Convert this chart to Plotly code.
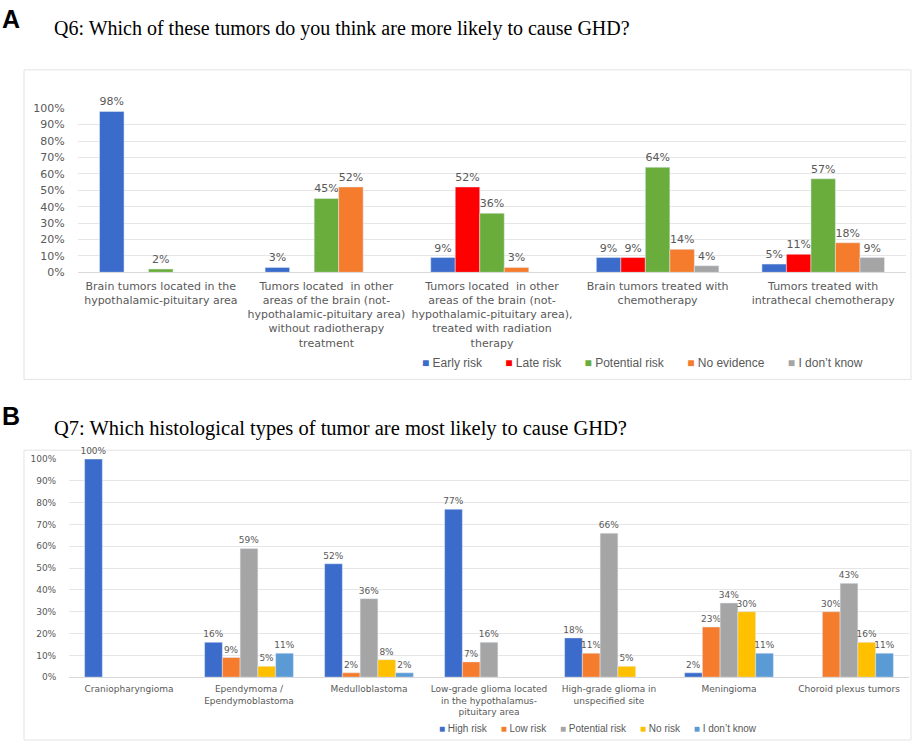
import plotly.graph_objects as go

# Q6 data (panel A)
q6_cats = ["Brain tumors located in the<br>hypothalamic-pituitary area",
           "Tumors located  in other<br>areas of the brain (not-<br>hypothalamic-pituitary area)<br>without radiotherapy<br>treatment",
           "Tumors located  in other<br>areas of the brain (not-<br>hypothalamic-pituitary area),<br>treated with radiation<br>therapy",
           "Brain tumors treated with<br>chemotherapy",
           "Tumors treated with<br>intrathecal chemotherapy"]
q6_early = [0.98, 0.03, 0.09, 0.09, 0.05]
q6_late = [None, None, 0.52, 0.09, 0.11]
q6_potential = [0.02, 0.45, 0.36, 0.64, 0.57]
q6_noevid = [None, 0.52, 0.03, 0.14, 0.18]
q6_dontknow = [None, None, None, 0.04, 0.09]

# Q7 data (panel B)
q7_cats = ["Craniopharyngioma", "Ependymoma /<br>Ependymoblastoma", "Medulloblastoma",
           "Low-grade glioma located<br>in the hypothalamus-<br>pituitary area",
           "High-grade glioma in<br>unspecified site", "Meningioma", "Choroid plexus tumors"]
q7_high = [1.00, 0.16, 0.52, 0.77, 0.18, 0.02, None]
q7_low = [None, 0.09, 0.02, 0.07, 0.11, 0.23, 0.30]
q7_potential = [None, 0.59, 0.36, 0.16, 0.66, 0.34, 0.43]
q7_norisk = [None, 0.05, 0.08, None, 0.05, 0.30, 0.16]
q7_dontknow = [None, 0.11, 0.02, None, None, 0.11, 0.11]

W, H = 912, 750
def px(x): return x / W
def py(y): return 1 - y / H

GREY = "#595959"
fig = go.Figure()

q6_series = [("Early risk", q6_early, "#3c6ccb"), ("Late risk", q6_late, "#ff0000"),
             ("Potential risk", q6_potential, "#6aad3c"), ("No evidence", q6_noevid, "#f47c2c"),
             ("I don\u2019t know", q6_dontknow, "#a5a5a5")]
for name, vals, col in q6_series:
    fig.add_trace(go.Bar(x=q6_cats, y=vals, name=name, marker_color=col,
                         xaxis="x", yaxis="y", showlegend=False,
                         texttemplate="%{y:.0%}", textposition="outside",
                         textfont=dict(family="DejaVu Sans", size=11, color=GREY),
                         cliponaxis=False, constraintext="none"))

q7_series = [("High risk", q7_high, "#3c6ccb"), ("Low risk", q7_low, "#f47c2c"),
             ("Potential risk", q7_potential, "#a5a5a5"), ("No risk", q7_norisk, "#ffc000"),
             ("I don\u2019t know", q7_dontknow, "#5b9bd5")]
for name, vals, col in q7_series:
    fig.add_trace(go.Bar(x=q7_cats, y=vals, name=name, marker_color=col,
                         xaxis="x2", yaxis="y2", showlegend=False,
                         texttemplate="%{y:.0%}", textposition="outside",
                         textfont=dict(family="DejaVu Sans", size=9, color=GREY),
                         cliponaxis=False, constraintext="none"))

tickfont_a = dict(family="DejaVu Sans", size=11, color=GREY)
tickfont_b = dict(family="DejaVu Sans", size=9, color=GREY)

fig.update_layout(
    width=W, height=H, margin=dict(l=0, r=0, t=0, b=0),
    paper_bgcolor="white", plot_bgcolor="white",
    font=dict(family="DejaVu Sans", color=GREY),
    barmode="group", bargap=0.26, bargroupgap=0,
    xaxis=dict(domain=[px(78), px(906)], anchor="y", tickfont=tickfont_a,
               showline=True, linecolor="#d9d9d9", ticks="outside", ticklen=3,
               tickcolor="rgba(0,0,0,0)", tickangle=0),
    yaxis=dict(domain=[py(271), py(104)], anchor="x", range=[0, 1.0], dtick=0.1,
               tickformat=".0%", tickfont=tickfont_a, gridcolor="#e6e6e6",
               zeroline=False, ticks="outside", ticklen=10, tickcolor="rgba(0,0,0,0)"),
    xaxis2=dict(domain=[px(69), px(909)], anchor="y2", tickfont=tickfont_b,
                showline=True, linecolor="#d9d9d9", ticks="outside", ticklen=3,
                tickcolor="rgba(0,0,0,0)", tickangle=0),
    yaxis2=dict(domain=[py(683), py(461)], anchor="x2", range=[0, 1.0], dtick=0.1,
                tickformat=".0%", tickfont=tickfont_b, gridcolor="#e6e6e6",
                zeroline=False, ticks="outside", ticklen=10, tickcolor="rgba(0,0,0,0)"),
    showlegend=False,
)

# chart frames
for y0, y1 in [(65, 380), (452, 747)]:
    fig.add_shape(type="rect", xref="paper", yref="paper",
                  x0=px(24), x1=px(911), y0=py(y1), y1=py(y0),
                  line=dict(color="#e3e3e3", width=1), fillcolor="rgba(0,0,0,0)", layer="below")

# legends written as a row of coloured squares and names
def legend_text(series, gap):
    parts = []
    for name, _, col in series:
        parts.append('<span style="color:%s">\u25a0</span> %s' % (col, name))
    return gap.join(parts)

fig.add_annotation(text=legend_text(q6_series, "&nbsp;" * 7),
                   x=px(420), y=py(363), xref="paper", yref="paper",
                   xanchor="left", yanchor="middle", showarrow=False,
                   font=dict(family="Liberation Sans", size=12, color=GREY))
fig.add_annotation(text=legend_text(q7_series, "&nbsp;" * 5),
                   x=px(437), y=py(735), xref="paper", yref="paper",
                   xanchor="left", yanchor="middle", showarrow=False,
                   font=dict(family="Liberation Sans", size=10, color=GREY))

# panel letters and titles
for letter, ly, title, ty, ts in [("A", 13, "Q6: Which of these tumors do you think are more likely to cause GHD?", 23, 20),
                                  ("B", 417, "Q7: Which histological types of tumor are most likely to cause GHD?", 430, 20.5)]:
    fig.add_annotation(text="<b>" + letter + "</b>", x=px(0), y=py(ly), xref="paper", yref="paper",
                       xanchor="left", yanchor="middle", showarrow=False,
                       font=dict(family="Liberation Sans", size=25, color="black"))
    fig.add_annotation(text=title, x=px(52), y=py(ty), xref="paper", yref="paper",
                       xanchor="left", yanchor="middle", showarrow=False,
                       font=dict(family="Liberation Serif", size=ts, color="black"))

fig.write_html("out.html", config={"displayModeBar": False},
               post_script="document.body.style.margin='0';document.body.style.overflow='hidden';")
